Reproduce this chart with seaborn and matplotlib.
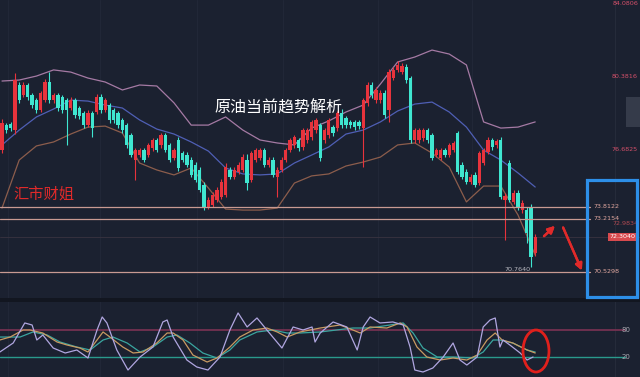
import numpy as np
import pandas as pd
import seaborn as sns
import matplotlib.pyplot as plt
from matplotlib.patches import Rectangle, Ellipse

# candle data (price units)
opens = [
    76.67, 77.93, 77.98, 77.68, 79.95, 79.45, 79.95, 79.45, 79.19, 78.69,
    79.19, 80.10, 79.19, 79.45, 79.35, 79.19, 78.79, 79.19, 78.79, 78.54,
    77.93, 78.54, 78.59, 79.35, 78.69, 78.94, 78.69, 78.54, 78.19, 77.93,
    77.43, 76.17, 76.42, 76.67, 76.42, 76.78, 77.18, 76.93, 77.43, 76.93,
    76.27, 77.18, 76.52, 76.42, 76.17, 75.92, 75.67, 74.91, 73.80, 73.90,
    74.16, 74.31, 74.41, 75.67, 75.31, 75.57, 75.67, 76.17, 75.16, 76.17,
    76.27, 76.67, 75.92, 76.17, 75.31, 75.67, 76.17, 76.67, 76.93, 77.18,
    76.83, 77.18, 77.33, 77.68, 77.93, 77.18, 77.43, 77.83, 77.78, 78.54,
    78.29, 78.09, 78.09, 78.09, 77.78, 79.04, 79.95, 79.19, 79.19, 79.55,
    78.69, 80.30, 80.71, 80.60, 80.86, 80.30, 77.18, 77.18, 77.28, 77.68,
    77.43, 76.42, 76.27, 76.67, 76.42, 76.67, 77.53, 75.92, 75.57, 75.06,
    75.42, 75.01, 76.02, 76.57, 77.18, 76.93, 77.18, 74.16, 76.02, 74.06,
    74.51, 73.65, 73.65, 73.80, 71.49]
closes = [
    78.04, 77.68, 77.78, 80.20, 79.19, 79.95, 79.35, 78.94, 78.69, 79.55,
    80.10, 79.19, 79.45, 78.79, 78.69, 78.69, 79.19, 78.44, 78.39, 77.93,
    78.54, 77.78, 79.35, 78.69, 79.19, 78.19, 78.19, 77.93, 77.68, 76.93,
    76.42, 76.67, 76.67, 76.17, 76.93, 77.18, 76.67, 77.43, 76.67, 76.17,
    76.67, 75.77, 76.17, 75.92, 75.42, 75.16, 74.66, 73.80, 74.16, 74.41,
    74.66, 75.06, 75.82, 75.31, 75.67, 75.92, 76.32, 75.01, 76.52, 76.67,
    76.67, 75.92, 76.17, 75.42, 75.67, 76.17, 76.67, 77.18, 77.33, 76.78,
    77.68, 77.68, 78.09, 78.19, 76.27, 77.68, 78.19, 77.53, 78.54, 77.93,
    77.93, 77.93, 77.83, 77.88, 79.19, 79.95, 79.45, 79.70, 79.55, 78.44,
    80.60, 80.71, 80.96, 80.91, 80.20, 77.18, 77.68, 77.68, 77.68, 77.18,
    76.27, 76.67, 76.67, 76.42, 76.93, 77.03, 75.57, 75.31, 75.06, 75.31,
    74.91, 76.52, 76.67, 77.18, 76.83, 77.13, 74.31, 74.36, 74.16, 74.51,
    73.80, 74.01, 72.49, 71.28, 72.30]
highs = [
    78.25, 78.05, 78.10, 80.55, 80.10, 80.10, 80.05, 79.55, 79.30, 79.65,
    80.25, 80.60, 79.55, 79.55, 79.45, 79.30, 79.35, 79.30, 78.90, 78.65,
    78.70, 78.65, 79.50, 79.50, 79.30, 79.05, 78.80, 78.65, 78.30, 78.05,
    77.55, 76.80, 76.80, 76.80, 77.05, 77.30, 77.30, 77.55, 77.55, 77.05,
    76.80, 77.35, 76.65, 76.55, 76.30, 76.05, 75.80, 75.05, 74.30, 74.55,
    74.80, 75.20, 76.00, 75.80, 75.80, 76.05, 76.45, 76.45, 76.65, 76.80,
    76.80, 76.80, 76.30, 76.30, 75.80, 76.30, 76.80, 77.30, 77.45, 77.30,
    77.80, 77.80, 78.20, 78.30, 78.05, 77.80, 78.30, 77.95, 78.65, 78.75,
    78.40, 78.20, 78.20, 78.20, 79.30, 80.10, 80.10, 79.85, 79.70, 79.70,
    80.75, 80.85, 81.15, 81.05, 81.00, 80.40, 77.80, 77.80, 77.80, 77.80,
    77.55, 76.80, 76.80, 76.80, 77.05, 77.15, 77.65, 76.05, 75.70, 75.45,
    75.55, 76.65, 76.80, 77.35, 77.30, 77.25, 77.35, 74.50, 76.15, 74.65,
    74.65, 74.15, 73.80, 73.95, 72.45]
lows = [
    76.50, 77.55, 77.65, 77.50, 79.05, 79.35, 79.20, 78.80, 78.55, 78.60,
    79.10, 79.05, 79.05, 78.65, 78.55, 76.93, 78.70, 78.30, 78.25, 77.80,
    77.85, 77.33, 78.50, 78.55, 78.60, 78.05, 78.05, 77.80, 77.55, 76.80,
    76.30, 75.16, 76.30, 76.05, 76.30, 76.65, 76.55, 76.80, 76.55, 76.05,
    76.15, 75.60, 76.05, 75.80, 75.30, 75.05, 74.55, 73.65, 73.70, 73.80,
    74.05, 74.20, 74.30, 75.20, 75.20, 75.45, 75.55, 74.66, 75.05, 76.05,
    76.15, 75.80, 75.80, 75.30, 74.31, 75.55, 76.05, 76.55, 76.80, 76.65,
    76.70, 77.05, 77.20, 77.55, 76.10, 77.05, 77.30, 77.40, 77.65, 77.80,
    77.80, 77.80, 77.70, 77.75, 75.82, 78.90, 79.30, 79.05, 79.05, 78.30,
    78.10, 80.20, 80.60, 80.50, 80.05, 77.05, 77.05, 77.05, 77.15, 77.05,
    76.15, 76.30, 76.15, 76.30, 76.30, 76.55, 75.45, 75.20, 74.95, 74.95,
    74.80, 74.90, 75.90, 76.45, 76.70, 76.80, 74.20, 72.14, 74.05, 73.95,
    73.65, 73.50, 71.99, 70.76, 71.35]

# Bollinger bands, sampled every 4 bars
band_idx = [0, 4, 8, 12, 16, 20, 24, 28, 32, 36, 40, 44, 48, 52, 56, 60,
            64, 68, 72, 76, 80, 84, 88, 92, 96, 100, 104, 108, 112, 116, 120, 124]
upper = [80.15, 80.20, 80.40, 80.71, 80.60, 80.30, 80.10, 79.70, 79.95, 79.90,
         79.05, 77.93, 77.93, 78.34, 77.68, 77.18, 77.03, 76.93, 77.78, 78.14,
         78.59, 78.94, 80.00, 81.11, 81.36, 81.71, 81.51, 80.96, 78.09, 77.78,
         77.83, 78.09]
middle = [76.93, 77.68, 78.34, 78.74, 79.19, 79.14, 78.94, 78.79, 78.19, 77.73,
          77.48, 77.08, 76.62, 75.77, 75.47, 75.42, 75.47, 76.02, 76.42, 76.83,
          77.48, 77.68, 78.09, 78.64, 78.99, 79.09, 78.59, 77.83, 76.67, 76.17,
          75.52, 74.81]
lower = [73.75, 76.17, 76.88, 77.08, 77.48, 77.83, 77.88, 77.53, 76.02, 75.67,
         75.42, 75.77, 74.76, 73.70, 73.65, 73.65, 73.75, 75.01, 75.37, 75.47,
         75.87, 76.07, 76.32, 76.93, 77.03, 76.52, 75.82, 74.06, 74.86, 74.86,
         73.40, 71.38]

# support / resistance levels
levels = [73.8122, 73.2154, 70.5298]
axis_labels = [84.0806, 80.3816, 76.6825]
last_price = 72.3040
prev_level = 72.9834
low_price = 70.7640

# KDJ oscillator
k_idx = [-0.5, 1.9, 4.9, 6.5, 9.5, 12.8, 15.1, 18.1, 20, 22.1, 23.5, 25.1, 28.1, 30.5,
         32.8, 36, 38.4, 39.8, 42.1, 44.4, 47.7, 50, 53, 55.3, 58.4, 61.6, 64, 66.3,
         69.3, 74, 78.6, 81.6, 83.3, 85.6, 89.5, 92.6, 94.2, 96.5, 98.8, 101.9, 104.9,
         108.1, 110.5, 112.8, 114.7, 116.3, 118.8, 122.1, 124]
k_val = [57.8, 64.4, 80, 80, 73.3, 53.3, 46.7, 40, 31.1, 57.8, 75.6, 64.4, 42.2, 28.9,
         31.1, 51.1, 73.3, 73.3, 57.8, 24.4, 8.9, 17.8, 42.2, 64.4, 80, 84.4, 75.6, 64.4,
         75.6, 84.4, 91.1, 80, 73.3, 86.7, 84.4, 95.6, 86.7, 42.2, 20, 13.3, 17.8,
         13.3, 24.4, 57.8, 73.3, 57.8, 51.1, 35.6, 28.9]
j_idx = [-0.5, 2.6, 5.3, 7.0, 8.1, 9.5, 11.9, 14.7, 17.4, 20, 22.1, 23.3, 24.4, 26.7,
         29.3, 32.1, 35.1, 37.4, 38.4, 39.8, 43, 45.3, 47.9, 50.7, 53, 54.9, 57, 59.3,
         61.6, 65.1, 67.7, 70, 72.1, 72.8, 74, 77, 80.2, 82.6, 84, 85.6, 87.9, 90.9,
         93.3, 94.9, 96, 97.9, 100.2, 102.6, 104.9, 106.5, 108.1, 110.5, 111.9, 113.5,
         114.7, 115.8, 116.5, 118.1, 120.5, 122.1, 123.5]
j_val = [31.1, 51.1, 95.6, 91.1, 57.8, 68.9, 40, 28.9, 35.6, 17.8, 80, 108.9, 95.6, 35.6,
         -8.9, 20, 42.2, 97.8, 102.2, 64.4, 13.3, -2.2, -8.9, 20, 80, 117.8, 86.7, 106.7,
         80, 40, 86.7, 80, 86.7, 53.3, 73.3, 97.8, 86.7, 35.6, 86.7, 108.9, 95.6, 97.8,
         91.1, 42.2, -8.9, -13.3, -4.4, 20, 51.1, 13.3, 2.2, 20, 86.7, 102.2,
         106.7, 42.2, 57.8, 46.7, 28.9, 13.3, 20]
d_idx = [-0.5, 4.2, 7.2, 10.5, 13.5, 17.4, 20.5, 23.5, 25.8, 29.1, 32.1, 35.1, 38.4,
         40.7, 43.7, 46.7, 50, 53, 55.3, 59.3, 63, 66.3, 69.3, 74, 81.6, 85.6, 93.3,
         95.6, 97.9, 101.2, 104.9, 109.5, 111.9, 114.2, 115.8, 118.8, 122.1, 124]
d_val = [64.4, 64.4, 75.6, 68.9, 53.3, 42.2, 35.6, 57.8, 64.4, 51.1, 31.1, 42.2, 64.4,
         68.9, 51.1, 28.9, 17.8, 35.6, 57.8, 75.6, 80, 73.3, 73.3, 75.6, 84.4, 84.4, 95.6,
         73.3, 40, 20, 20, 17.8, 31.1, 57.8, 57.8, 51.1, 35.6, 31.1]

BG = '#1b2130'
RED = '#e8333c'
CYAN = '#3fe6d0'

sns.set_style("dark")
plt.rcParams['font.family'] = ['Noto Sans CJK SC', 'DejaVu Sans']

fig = plt.figure(figsize=(6.4, 3.77), dpi=100, facecolor=BG)
ax = fig.add_axes([0, 1 - 298 / 377, 1, 298 / 377])
ax2 = fig.add_axes([0, 0, 1, 76 / 377])
for a in (ax, ax2):
    a.set_facecolor(BG)
    a.set_xlim(-0.465, 148.37)
    a.set_xticks([])
    a.set_yticks([])
    for s in a.spines.values():
        s.set_visible(False)
ax.set_ylim(69.22, 84.232)
ax2.set_ylim(-24.4, 144.4)

# panel separator
fig.add_artist(Rectangle((0, 75.5 / 377), 1, 3.5 / 377, transform=fig.transFigure,
                         color='#121620', lw=0))

# faint vertical grid
for a in (ax, ax2):
    for gx in [1.4, 22.8, 45.3, 65.3, 87.4, 109.3]:
        a.axvline(gx, color='#222838', lw=0.7, zorder=0)
    a.axvline(142.6, color='#262c3b', lw=0.7, zorder=0)

# candles
df = pd.DataFrame(dict(o=opens, h=highs, l=lows, c=closes))
cols = np.where(df.c >= df.o, RED, CYAN)
ax.vlines(df.index, df.l, df.h, colors=cols, lw=0.8, zorder=3)
ax.bar(df.index, (df.c - df.o).abs().clip(lower=0.05), bottom=np.minimum(df.o, df.c),
       width=0.75, color=cols, lw=0, zorder=4)

# bollinger bands
bands = pd.DataFrame(dict(idx=band_idx, upper=upper, middle=middle, lower=lower))
sns.lineplot(data=bands, x='idx', y='upper', ax=ax, color='#a57aa4', lw=0.9, zorder=2)
sns.lineplot(data=bands, x='idx', y='middle', ax=ax, color='#4f5fb5', lw=0.9, zorder=2)
sns.lineplot(data=bands, x='idx', y='lower', ax=ax, color='#8c5d4c', lw=0.9, zorder=2)

# horizontal levels
for lv in levels:
    ax.axhline(lv, xmin=0, xmax=590 / 640, color='#c99a92', lw=0.9, zorder=5)
    ax.text(593 / 640, lv, f'{lv:.4f}', transform=ax.get_yaxis_transform(),
            color='#e2a8a0', fontsize=4.6, va='center', ha='left', family='DejaVu Sans')
ax.axhline(last_price, color='#3a3340', lw=0.6, zorder=1)

# right axis labels
for lv in axis_labels:
    ax.text(0.997, lv, f'{lv:.4f}', transform=ax.get_yaxis_transform(),
            color='#d4506a', fontsize=4.6, va='center', ha='right', family='DejaVu Sans')
ax.text(0.997, prev_level, f'{prev_level:.4f}', transform=ax.get_yaxis_transform(),
        color='#b04a52', fontsize=4.6, va='center', ha='right', family='DejaVu Sans')
ax.text(0.993, last_price, f'{last_price:.4f}', transform=ax.get_yaxis_transform(),
        color='white', fontsize=4.6, va='center', ha='right', family='DejaVu Sans',
        bbox=dict(boxstyle='square,pad=0.2', fc='#d84a4e', ec='none'), zorder=8)
ax.text(123, low_price - 0.12, f'{low_price:.4f}', color='#b8b8c0', fontsize=4.6,
        va='center', ha='right', family='DejaVu Sans')

# little side tab
fig.add_artist(Rectangle((626 / 640, 1 - 127 / 377), 14 / 640, 30 / 377,
                         transform=fig.transFigure, color='#353b4a', lw=0))

# titles
fig.text(278 / 640, 1 - 108 / 377, '原油当前趋势解析', color='white', fontsize=11.5,
         ha='center', va='center')
fig.text(13 / 640, 1 - 194 / 377, '汇市财姐', color='#e02a2a', fontsize=11,
         ha='left', va='center')

# blue highlight box
fig.add_artist(Rectangle((587 / 640, 1 - 297 / 377), 50 / 640, 117 / 377,
                         transform=fig.transFigure, fill=False, ec='#2d8fe8', lw=2.3))

# arrows
arrow = dict(arrowstyle='-|>', color='#e02a2a', lw=1.7, mutation_scale=10)
fig.add_artist(plt.annotate('', xy=(557, 153), xytext=(542, 139),
                            xycoords='figure pixels', arrowprops=arrow))
fig.add_artist(plt.annotate('', xy=(583, 104), xytext=(562, 152),
                            xycoords='figure pixels', arrowprops=arrow))

# oscillator panel
ax2.axhline(80, xmax=625 / 640, color='#7c3353', lw=1.2)
ax2.axhline(20, xmax=625 / 640, color='#2a9a8c', lw=1.0)
for lv in (80, 20):
    ax2.text(0.985, lv, str(lv), transform=ax2.get_yaxis_transform(), color='#a8a8b0',
             fontsize=5, va='center', ha='right', family='DejaVu Sans')
sns.lineplot(x=d_idx, y=d_val, ax=ax2, color='#3aa6a0', lw=0.9)
sns.lineplot(x=k_idx, y=k_val, ax=ax2, color='#c89a62', lw=0.9)
sns.lineplot(x=j_idx, y=j_val, ax=ax2, color='#b0a6e0', lw=0.9)

fig.add_artist(Ellipse((536 / 640, 1 - 351 / 377), 26 / 640, 42 / 377,
                       transform=fig.transFigure, fill=False, ec='#e0201c', lw=2))

for a in (ax, ax2):
    a.set_xlabel('')
    a.set_ylabel('')

fig.savefig('out.png', dpi=100, facecolor=BG)
